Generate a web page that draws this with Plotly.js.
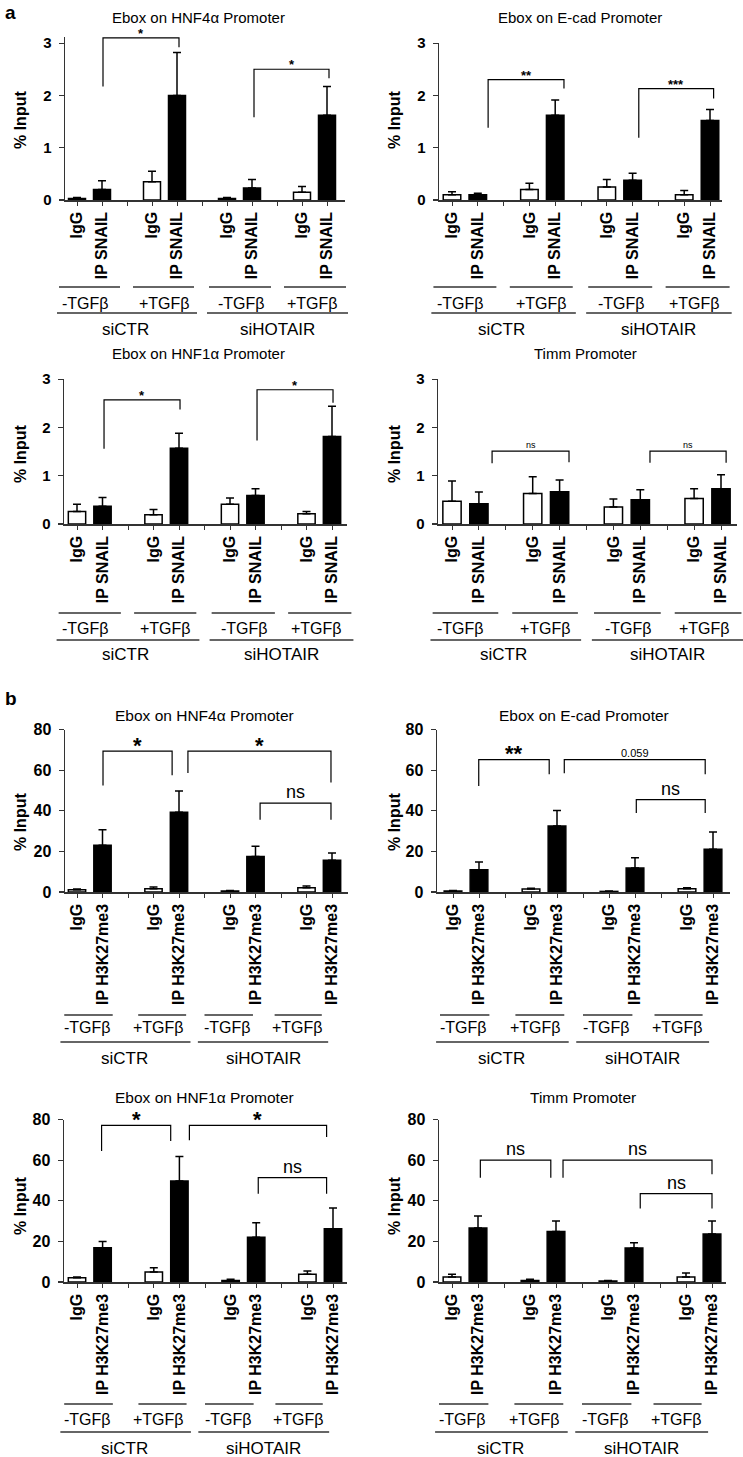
<!DOCTYPE html>
<html>
<head>
<meta charset="utf-8">
<script src="https://cdn.plot.ly/plotly-3.0.1.min.js"></script>
<style>
body { margin: 0; background: #fff; }
#fig { width: 743px; height: 1457px; }
</style>
</head>
<body>
<div id="fig"></div>
<script>
const W = 743, H = 1457;
const FONT = 'Liberation Sans, Arial, Helvetica, sans-serif';

/* bar labels */
const snailLabels = ['IgG', 'IP SNAIL', 'IgG', 'IP SNAIL', 'IgG', 'IP SNAIL', 'IgG', 'IP SNAIL'];
const h3Labels = ['IgG', 'IP H3K27me3', 'IgG', 'IP H3K27me3', 'IgG', 'IP H3K27me3', 'IgG', 'IP H3K27me3'];
const tgfLabels = ['-TGFβ', '+TGFβ', '-TGFβ', '+TGFβ'];
const siLabels = ['siCTR', 'siHOTAIR'];

/* a: ChIP with SNAIL antibody, % input (mean, upper SEM) */
const aHnf4Mean = [0.03, 0.20, 0.35, 2.00, 0.03, 0.23, 0.15, 1.62];
const aHnf4Sem  = [0.02, 0.17, 0.20, 0.82, 0.02, 0.16, 0.11, 0.55];
const aEcadMean = [0.10, 0.10, 0.20, 1.62, 0.25, 0.38, 0.10, 1.52];
const aEcadSem  = [0.06, 0.03, 0.12, 0.29, 0.14, 0.13, 0.08, 0.21];
const aHnf1Mean = [0.26, 0.37, 0.19, 1.57, 0.41, 0.59, 0.21, 1.81];
const aHnf1Sem  = [0.15, 0.18, 0.11, 0.31, 0.13, 0.14, 0.05, 0.63];
const aTimmMean = [0.47, 0.42, 0.63, 0.67, 0.35, 0.50, 0.53, 0.73];
const aTimmSem  = [0.42, 0.24, 0.35, 0.24, 0.17, 0.21, 0.20, 0.29];

/* b: ChIP with H3K27me3 antibody */
const bHnf4Mean = [1.1, 23.0, 1.6, 39.3, 0.5, 17.5, 2.1, 15.6];
const bHnf4Sem  = [0.4, 7.7, 0.9, 10.4, 0.3, 5.0, 0.9, 3.6];
const bEcadMean = [0.5, 11.0, 1.5, 32.5, 0.3, 11.8, 1.6, 21.0];
const bEcadSem  = [0.3, 3.8, 0.4, 7.7, 0.2, 5.1, 0.5, 8.5];
const bHnf1Mean = [2.1, 16.9, 4.9, 49.7, 0.8, 22.1, 3.8, 26.2];
const bHnf1Sem  = [0.4, 3.1, 2.1, 12.1, 0.5, 7.1, 1.6, 10.2];
const bTimmMean = [2.5, 26.6, 0.8, 24.9, 0.5, 16.7, 2.5, 23.6];
const bTimmSem  = [1.3, 5.9, 0.5, 5.1, 0.3, 2.6, 1.9, 6.4];

/* significance brackets: [left slot, right slot, left foot, right foot, top, label] */
const aHnf4Sig = [[1.04, 4.08, 2.17, 2.92, 3.1, '*'], [7.08, 10.08, 1.58, 2.33, 2.5, '*']];
const aEcadSig = [[1.4, 4.34, 1.38, 2.13, 2.3, '**'], [7.24, 10.14, 1.19, 1.94, 2.13, '***']];
const aHnf1Sig = [[1.06, 4.04, 1.56, 2.37, 2.57, '*'], [7.06, 10.04, 1.73, 2.51, 2.78, '*']];
const aTimmSig = [[1.49, 4.35, 1.26, 1.28, 1.51, 'ns'], [7.36, 10.19, 1.27, 1.27, 1.51, 'ns']];
const bHnf4Sig = [[1.02, 3.73, 52.5, 57.5, 69.4, '*'], [4.35, 9.96, 58.6, 54, 69.4, '*'], [7.18, 9.96, 35.6, 35.6, 43.8, 'ns']];
const bEcadSig = [[0.99, 3.7, 52.2, 58, 65.2, '**'], [4.28, 9.7, 58.5, 58, 65.2, '0.059'], [7.05, 9.7, 38.9, 38.9, 45.5, 'ns']];
const bHnf1Sig = [[0.96, 3.66, 64.5, 69.5, 77.2, '*'], [4.39, 9.75, 69.8, 71.4, 77.2, '*'], [7.08, 9.75, 43.5, 43.5, 51.4, 'ns']];
const bTimmSig = [[1.09, 3.8, 51.4, 51.4, 60, 'ns'], [4.27, 10, 51.4, 53.1, 60, 'ns'], [7.24, 10, 36.2, 36.2, 43.5, 'ns']];

/* group lines under the axis, in slot units */
const decoA = {pairs: [[-0.72, 1.72], [2.24, 4.68], [5.28, 7.76], [8.28, 10.76]], tgfX: [0.32, 3.48, 6.56, 9.4],
               groups: [[-0.8, 4.8], [5.2, 10.84]], siX: [1.92, 8.0]};
const decoB = {pairs: [[-0.5, 1.4], [2.4, 4.28], [5.0, 6.9], [7.75, 9.6]], tgfX: [0.4, 3.18, 5.9, 8.65],
               groups: [[-0.65, 4.45], [4.74, 9.85]], siX: [1.85, 7.3]};

const panels = [
  {title: 'Ebox on HNF4α Promoter', labels: snailLabels, mean: aHnf4Mean, sem: aHnf4Sem, sig: aHnf4Sig,
   left: 65, right: 345, zero: 200, unit: 52.3, yMax: 3.12, ticks: [0, 1, 2, 3], slot0: 77, slotPx: 25,
   titleX: 198, titleY: 18, ylabX: 20, ylabY: 120, deco: decoA, rows: [287, 303, 313, 329], small: true},
  {title: 'Ebox on E-cad Promoter', labels: snailLabels, mean: aEcadMean, sem: aEcadSem, sig: aEcadSig,
   left: 439, right: 722, zero: 200, unit: 52.3, yMax: 3, ticks: [0, 1, 2, 3], slot0: 452, slotPx: 25.8,
   titleX: 580, titleY: 18, ylabX: 394, ylabY: 120, deco: decoA, rows: [287, 303, 313, 329], small: true},
  {title: 'Ebox on HNF1α Promoter', labels: snailLabels, mean: aHnf1Mean, sem: aHnf1Sem, sig: aHnf1Sig,
   left: 64, right: 347, zero: 524, unit: 48.3, yMax: 3, ticks: [0, 1, 2, 3], slot0: 77, slotPx: 25.5,
   titleX: 198, titleY: 353, ylabX: 20, ylabY: 454, deco: decoA, rows: [613, 628, 640, 655], small: true},
  {title: 'Timm Promoter', labels: snailLabels, mean: aTimmMean, sem: aTimmSem, sig: aTimmSig,
   left: 438, right: 737, zero: 524, unit: 48.3, yMax: 3, ticks: [0, 1, 2, 3], slot0: 452, slotPx: 26.9,
   titleX: 585, titleY: 353, ylabX: 394, ylabY: 454, deco: decoA, rows: [613, 628, 640, 655], small: true},
  {title: 'Ebox on HNF4α Promoter', labels: h3Labels, mean: bHnf4Mean, sem: bHnf4Sem, sig: bHnf4Sig,
   left: 65, right: 348, zero: 892, unit: 2.03, yMax: 80, ticks: [0, 20, 40, 60, 80], slot0: 77, slotPx: 25.5,
   titleX: 204, titleY: 715, ylabX: 20, ylabY: 822, deco: decoB, rows: [1015, 1027, 1042, 1058]},
  {title: 'Ebox on E-cad Promoter', labels: h3Labels, mean: bEcadMean, sem: bEcadSem, sig: bEcadSig,
   left: 437, right: 730, zero: 892, unit: 2.03, yMax: 80, ticks: [0, 20, 40, 60, 80], slot0: 453, slotPx: 26,
   titleX: 584, titleY: 715, ylabX: 394, ylabY: 822, deco: decoB, rows: [1015, 1027, 1042, 1058]},
  {title: 'Ebox on HNF1α Promoter', labels: h3Labels, mean: bHnf1Mean, sem: bHnf1Sem, sig: bHnf1Sig,
   left: 64, right: 347, zero: 1282, unit: 2.03, yMax: 80, ticks: [0, 20, 40, 60, 80], slot0: 77, slotPx: 25.6,
   titleX: 204, titleY: 1097, ylabX: 20, ylabY: 1206, deco: decoB, rows: [1404, 1419, 1432, 1448]},
  {title: 'Timm Promoter', labels: h3Labels, mean: bTimmMean, sem: bTimmSem, sig: bTimmSig,
   left: 439, right: 726, zero: 1282, unit: 2.03, yMax: 80, ticks: [0, 20, 40, 60, 80], slot0: 452, slotPx: 26,
   titleX: 583, titleY: 1097, ylabX: 394, ylabY: 1206, deco: decoB, rows: [1404, 1419, 1432, 1448]}
];

/* IgG, IP pairs with an empty slot between pairs */
function slotOf(i) { return i + Math.floor(i / 2); }
function py(p) { return 1 - p / H; }

const traces = [];
const layout = {
  width: W, height: H,
  margin: {l: 0, r: 0, t: 0, b: 0},
  paper_bgcolor: '#fff', plot_bgcolor: 'rgba(0,0,0,0)',
  showlegend: false,
  font: {family: FONT, color: '#000'},
  shapes: [], annotations: []
};

panels.forEach(function(p, k) {
  const n = k + 1;
  const xa = 'x' + (n > 1 ? n : ''), ya = 'y' + (n > 1 ? n : '');
  const r0 = (p.left - p.slot0) / p.slotPx, r1 = (p.right - p.slot0) / p.slotPx;
  const slots = p.mean.map(function(v, i) { return slotOf(i); });

  traces.push({
    type: 'bar', xaxis: xa, yaxis: ya,
    x: slots, y: p.mean, width: 0.68,
    marker: {color: p.mean.map(function(v, i) { return i % 2 ? '#000' : '#fff'; }),
             line: {color: '#000', width: 1.5}},
    error_y: {type: 'data', symmetric: false, array: p.sem, arrayminus: p.sem.map(function() { return 0; }),
              color: '#000', thickness: 1.5, width: 4},
    hoverinfo: 'skip'
  });

  const tickvals = [], ticktext = [];
  for (let s = 0; s <= 10; s++) {
    tickvals.push(s);
    const i = slots.indexOf(s);
    ticktext.push(i >= 0 ? p.labels[i] : '');
  }

  layout['xaxis' + (n > 1 ? n : '')] = {
    domain: [p.left / W, p.right / W], range: [r0, r1], anchor: ya,
    showline: true, linecolor: '#333', linewidth: 1.5,
    ticks: 'outside', ticklen: 4, tickcolor: '#333', tickwidth: 1,
    tickvals: tickvals, ticktext: ticktext, tickangle: -90,
    tickfont: {family: FONT, size: 16, weight: 'bold', color: '#000'},
    showgrid: false, zeroline: false, fixedrange: true
  };
  const top = p.zero - p.yMax * p.unit;
  layout['yaxis' + (n > 1 ? n : '')] = {
    domain: [py(p.zero), py(top)], range: [0, p.yMax], anchor: xa,
    showline: true, linecolor: '#333', linewidth: 1.5,
    ticks: 'outside', ticklen: 5, tickcolor: '#333', tickwidth: 1.2, ticklabelstandoff: 4,
    tickvals: p.ticks, tickfont: {family: FONT, size: p.small ? 15 : 16, weight: 'bold', color: '#000'},
    showgrid: false, zeroline: false, fixedrange: true
  };

  /* title and y label */
  layout.annotations.push({text: p.title, xref: 'paper', yref: 'paper', x: p.titleX / W, y: py(p.titleY),
    showarrow: false, font: {size: p.small ? 15 : 15.5}, xanchor: 'center', yanchor: 'middle'});
  layout.annotations.push({text: '% Input', xref: 'paper', yref: 'paper', x: p.ylabX / W, y: py(p.ylabY),
    showarrow: false, textangle: -90, font: {size: 16, weight: 'bold'}, xanchor: 'center', yanchor: 'middle'});

  /* significance brackets */
  p.sig.forEach(function(b) {
    const path = 'M' + b[0] + ',' + b[2] + ' L' + b[0] + ',' + b[4] + ' L' + b[1] + ',' + b[4] + ' L' + b[1] + ',' + b[3];
    layout.shapes.push({type: 'path', path: path, xref: xa, yref: ya, line: {color: '#000', width: 1.2}});
    const star = b[5].indexOf('*') === 0;
    let size;
    if (p.small) size = b[5] === 'ns' ? 9 : 13;
    else size = b[5] === '0.059' ? 11 : (star ? 22 : 18);
    layout.annotations.push({text: b[5], xref: xa, yref: ya, x: (b[0] + b[1]) / 2, y: b[4],
      showarrow: false, xanchor: 'center', yanchor: 'bottom', yshift: star ? -0.4 * size : -1,
      font: {size: size, weight: star ? 'bold' : 'normal'}});
  });

  /* treatment and siRNA lines under the axis */
  const dom = function(s) { return (s - r0) / (r1 - r0); };
  p.deco.pairs.forEach(function(seg, i) {
    layout.shapes.push({type: 'line', xref: xa + ' domain', yref: 'paper', x0: dom(seg[0]), x1: dom(seg[1]),
      y0: py(p.rows[0]), y1: py(p.rows[0]), line: {color: '#333', width: 1.5}});
    layout.annotations.push({text: tgfLabels[i], xref: xa, yref: 'paper', x: p.deco.tgfX[i], y: py(p.rows[1]),
      showarrow: false, xanchor: 'center', yanchor: 'middle', font: {size: 16}});
  });
  p.deco.groups.forEach(function(seg, i) {
    layout.shapes.push({type: 'line', xref: xa + ' domain', yref: 'paper', x0: dom(seg[0]), x1: dom(seg[1]),
      y0: py(p.rows[2]), y1: py(p.rows[2]), line: {color: '#333', width: 1.5}});
    layout.annotations.push({text: siLabels[i], xref: xa, yref: 'paper', x: p.deco.siX[i], y: py(p.rows[3]),
      showarrow: false, xanchor: 'center', yanchor: 'middle', font: {size: 17}});
  });
});

/* panel letters */
layout.annotations.push({text: 'a', xref: 'paper', yref: 'paper', x: 3 / W, y: py(0), showarrow: false,
  xanchor: 'left', yanchor: 'top', font: {size: 19, weight: 'bold'}});
layout.annotations.push({text: 'b', xref: 'paper', yref: 'paper', x: 3 / W, y: py(686), showarrow: false,
  xanchor: 'left', yanchor: 'top', font: {size: 19, weight: 'bold'}});

Plotly.newPlot('fig', traces, layout, {staticPlot: true});
</script>
</body>
</html>
